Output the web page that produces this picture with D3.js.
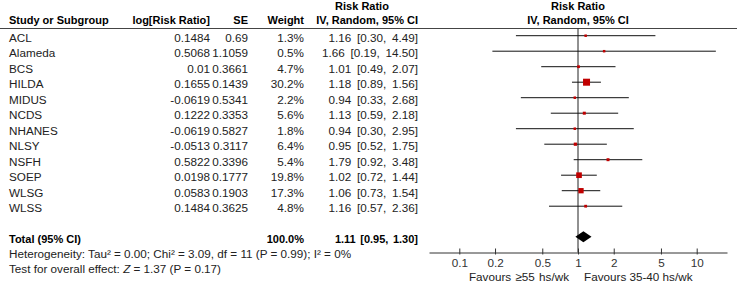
<!DOCTYPE html>
<html lang="en">
<head>
    <meta charset="UTF-8">
    <title>Forest plot</title>
    <script src="https://d3js.org/d3.v7.min.js"></script>
    <style>
        body { margin: 0; background: #fff; }
        svg { font-family: "Liberation Sans", Arial, sans-serif; font-size: 11.7px; }
        .hdr { font-weight: bold; fill: #000; font-size: 11px; }
        .txt { fill: #222; }
        .ci { word-spacing: 2.5px; }
        .tick text { font-size: 11.7px; fill: #333; font-family: "Liberation Sans", Arial, sans-serif; }
    </style>
</head>
<body>
<svg id="forest" width="737" height="281"></svg>
<script>
    const studies = ["ACL", "Alameda", "BCS", "HILDA", "MIDUS", "NCDS", "NHANES", "NLSY", "NSFH", "SOEP", "WLSG", "WLSS"];
    const logRR = [0.1484, 0.5068, 0.01, 0.1655, -0.0619, 0.1222, -0.0619, -0.0513, 0.5822, 0.0198, 0.0583, 0.1484];
    const se = [0.69, 1.1059, 0.3661, 0.1439, 0.5341, 0.3353, 0.5827, 0.3117, 0.3396, 0.1777, 0.1903, 0.3625];
    const weight = [1.3, 0.5, 4.7, 30.2, 2.2, 5.6, 1.8, 6.4, 5.4, 19.8, 17.3, 4.8];
    const rr = [1.16, 1.66, 1.01, 1.18, 0.94, 1.13, 0.94, 0.95, 1.79, 1.02, 1.06, 1.16];
    const lower = [0.30, 0.19, 0.49, 0.89, 0.33, 0.59, 0.30, 0.52, 0.92, 0.72, 0.73, 0.57];
    const upper = [4.49, 14.50, 2.07, 1.56, 2.68, 2.18, 2.95, 1.75, 3.48, 1.44, 1.54, 2.36];
    const totalRR = [1.11, 0.95, 1.30];
    const totalWeight = "100.0%";
    const axisTicks = [0.1, 0.2, 0.5, 1, 2, 5, 10];

    const svg = d3.select("#forest");
    const W = 737;

    // row positions (row 13 = total)
    const rowY = d3.scaleLinear().domain([0, 13]).range([35.7, 237.2]);
    const x = d3.scaleLog().domain([1 / 18, 18]).range([429, 727]);
    const size = d3.scaleSqrt().domain([0, 30.2]).range([0, 7]);
    const axisY = 252.5;

    const colName = 9, colLog = 210, colSE = 248, colW = 304, colCI = 418;

    // headers
    svg.append("text").attr("class", "hdr").attr("x", 362).attr("y", 9.5)
        .attr("text-anchor", "middle").text("Risk Ratio");
    svg.append("text").attr("class", "hdr").attr("x", x(1)).attr("y", 9.5)
        .attr("text-anchor", "middle").text("Risk Ratio");
    const hdrs = [
        [colName, "start", "Study or Subgroup"],
        [colLog, "end", "log[Risk Ratio]"],
        [colSE, "end", "SE"],
        [colW, "end", "Weight"],
        [colCI, "end", "IV, Random, 95% CI"],
        [x(1), "middle", "IV, Random, 95% CI"]
    ];
    hdrs.forEach(h => {
        svg.append("text").attr("class", "hdr").attr("x", h[0]).attr("y", 24)
            .attr("text-anchor", h[1]).text(h[2]);
    });
    svg.append("line").attr("x1", 0).attr("x2", W).attr("y1", 28.5).attr("y2", 28.5)
        .attr("stroke", "#444").attr("stroke-width", 1);

    // study rows
    const f2 = d3.format(".2f");
    studies.forEach((s, i) => {
        const y = rowY(i) + 6;
        const g = svg.append("g").attr("class", "txt");
        g.append("text").attr("x", colName).attr("y", y).text(s);
        g.append("text").attr("x", colLog).attr("y", y).attr("text-anchor", "end").text(logRR[i]);
        g.append("text").attr("x", colSE).attr("y", y).attr("text-anchor", "end").text(se[i]);
        g.append("text").attr("x", colW).attr("y", y).attr("text-anchor", "end").text(weight[i].toFixed(1) + "%");
        g.append("text").attr("class", "ci").attr("x", colCI).attr("y", y).attr("text-anchor", "end")
            .text(`${f2(rr[i])} [${f2(lower[i])}, ${f2(upper[i])}]`);
    });

    // total row
    const ty = rowY(13) + 6;
    svg.append("text").attr("class", "hdr").attr("x", colName).attr("y", ty).text("Total (95% CI)");
    svg.append("text").attr("class", "hdr").attr("x", colW).attr("y", ty).attr("text-anchor", "end").text(totalWeight);
    svg.append("text").attr("class", "hdr ci").attr("x", colCI).attr("y", ty).attr("text-anchor", "end")
        .style("word-spacing", "1.5px")
        .text(`${f2(totalRR[0])} [${f2(totalRR[1])}, ${f2(totalRR[2])}]`);

    svg.append("text").attr("class", "txt").attr("x", colName).attr("y", 257.5)
        .text("Heterogeneity: Tau\u00b2 = 0.00; Chi\u00b2 = 3.09, df = 11 (P = 0.99); I\u00b2 = 0%");
    const t2 = svg.append("text").attr("class", "txt").attr("x", colName).attr("y", 272.5);
    t2.append("tspan").text("Test for overall effect: ");
    t2.append("tspan").attr("font-style", "italic").text("Z");
    t2.append("tspan").text(" = 1.37 (P = 0.17)");

    // null line
    svg.append("line").attr("x1", x(1)).attr("x2", x(1)).attr("y1", 28.5).attr("y2", axisY)
        .attr("stroke", "#222").attr("stroke-width", 1);

    // CIs and squares
    studies.forEach((s, i) => {
        const y = rowY(i);
        svg.append("line").attr("x1", x(lower[i])).attr("x2", x(upper[i]))
            .attr("y1", y).attr("y2", y).attr("stroke", "#111").attr("stroke-width", 1);
        const sz = Math.max(2.5, size(weight[i]));
        svg.append("rect").attr("x", x(rr[i]) - sz / 2).attr("y", y - sz / 2)
            .attr("width", sz).attr("height", sz).attr("fill", "#c00000");
    });

    // diamond
    const dy = rowY(13) - 0.5;
    svg.append("path")
        .attr("d", `M${x(totalRR[1])},${dy} L${x(totalRR[0])},${dy - 5.5} L${x(totalRR[2])},${dy} L${x(totalRR[0])},${dy + 5.5} Z`)
        .attr("fill", "#000");

    // axis
    const axis = d3.axisBottom(x).tickValues(axisTicks).tickFormat(d => d)
        .tickSizeOuter(0).tickSizeInner(3).tickPadding(6);
    const ag = svg.append("g").attr("transform", `translate(0,${axisY})`).call(axis);
    ag.select(".domain").attr("stroke", "#333");
    ag.selectAll(".tick line").attr("y1", -4).attr("y2", 2).attr("stroke", "#333");
    ag.selectAll(".tick text").attr("y", 6);

    svg.append("text").attr("class", "txt").attr("x", x(1) - 9).attr("y", 280.5)
        .attr("text-anchor", "end").attr("fill", "#333").style("word-spacing", "1px").text("Favours \u226555 hs/wk");
    svg.append("text").attr("class", "txt").attr("x", x(1) + 6).attr("y", 280.5)
        .text("Favours 35-40 hs/wk");
</script>
</body>
</html>
